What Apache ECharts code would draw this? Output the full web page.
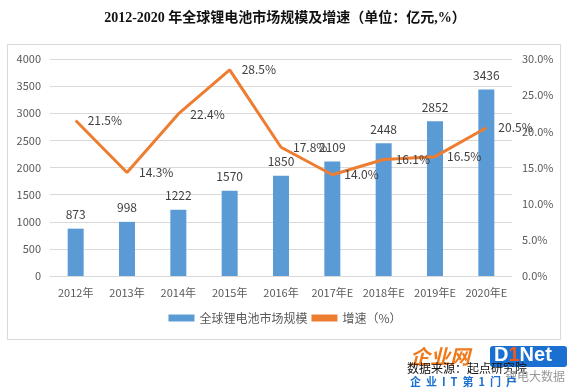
<!DOCTYPE html>
<html>
<head>
<meta charset="utf-8">
<script src="https://cdn.jsdelivr.net/npm/echarts@6/dist/echarts.min.js"></script>
<style>html,body{margin:0;padding:0;background:#fff;}#c{width:570px;height:389px;}</style>
</head>
<body>
<div id="c"></div>
<script>
var categories = ['2012年','2013年','2014年','2015年','2016年','2017年E','2018年E','2019年E','2020年E'];
var marketSize = [873, 998, 1222, 1570, 1850, 2109, 2448, 2852, 3436];
var growthRate = [21.5, 14.3, 22.4, 28.5, 17.8, 14.0, 16.1, 16.5, 20.5];
var leftTicks = [0, 4000, 500];
var rightTicks = [0, 30, 5];
var titleText = '2012-2020 年全球锂电池市场规模及增速（单位：亿元,%）';
var seriesNames = ['全球锂电池市场规模', '增速（%）'];

var font = '"Microsoft YaHei","Noto Sans CJK SC",sans-serif';
var chart = echarts.init(document.getElementById('c'), null, {renderer: 'canvas'});
chart.setOption({
  backgroundColor: '#fff',
  animation: false,
  title: {
    text: titleText, left: 'center', top: 6,
    textStyle: {fontFamily: '"Liberation Serif","Noto Sans CJK SC",serif', fontWeight: 'bold', fontSize: 14, color: '#111'}
  },
  legend: {
    bottom: 60, left: 'center', itemGap: 4,
    textStyle: {fontFamily: font, fontSize: 12, color: '#595959'},
    data: [
      {name: seriesNames[0], icon: 'rect', itemStyle: {color: '#5B9BD5'}},
      {name: seriesNames[1], icon: 'rect', itemStyle: {color: '#ED7D31'}}
    ],
    itemWidth: 26, itemHeight: 7
  },
  grid: {left: 50, right: 58, top: 59, bottom: 113},
  xAxis: {
    type: 'category', data: categories,
    axisLine: {lineStyle: {color: '#d9d9d9'}},
    axisTick: {show: false},
    axisLabel: {color: '#595959', fontSize: 11, fontFamily: font, margin: 11, interval: 0}
  },
  yAxis: [
    {
      type: 'value', min: leftTicks[0], max: leftTicks[1], interval: leftTicks[2],
      axisLine: {show: false}, axisTick: {show: false},
      axisLabel: {color: '#595959', fontSize: 11, fontFamily: font, margin: 9,
        formatter: function(v){ return String(v); }},
      splitLine: {lineStyle: {color: '#d9d9d9'}}
    },
    {
      type: 'value', min: rightTicks[0], max: rightTicks[1], interval: rightTicks[2],
      axisLine: {show: false}, axisTick: {show: false},
      axisLabel: {color: '#595959', fontSize: 11, fontFamily: font, margin: 10,
        formatter: function(v){ return v.toFixed(1) + '%'; }},
      splitLine: {show: false}
    }
  ],
  series: [
    {
      name: seriesNames[0], type: 'bar', data: marketSize, barWidth: 16,
      itemStyle: {color: '#5B9BD5'},
      label: {show: true, position: 'top', distance: 8, color: '#404040', fontSize: 12, fontFamily: font}
    },
    {
      name: seriesNames[1], type: 'line', yAxisIndex: 1, data: growthRate,
      symbol: 'circle', symbolSize: 0.01, showSymbol: true,
      lineStyle: {color: '#ED7D31', width: 3},
      itemStyle: {color: '#ED7D31'},
      label: {show: true, position: 'right', distance: 12, color: '#404040', fontSize: 12, fontFamily: font,
        formatter: function(p){ return p.value.toFixed(1) + '%'; }}
    }
  ],
  graphic: [
    {type: 'rect', shape: {x: 7.5, y: 44.5, width: 553, height: 295}, style: {fill: 'none', stroke: '#d9d9d9', lineWidth: 1}, z: -1},
    {type: 'text', left: 410, top: 346, style: {text: '企业网', fill: '#F07A1A', font: 'italic bold 20px "Noto Sans CJK SC"'}},
    {type: 'rect', shape: {x: 490, y: 346, width: 77, height: 21, r: 3}, style: {fill: '#1A6FD0'}},
    {type: 'text', left: 494, top: 345, style: {rich: {a: {fill: '#fff', fontSize: 20, fontWeight: 'bold', fontFamily: 'Liberation Sans'}, b: {fill: '#F05A1A', fontSize: 20, fontWeight: 'bold', fontFamily: 'Liberation Sans'}}, text: '{a|D}{b|1}{a|Net}'}},
    {type: 'text', left: 407, top: 362, style: {text: '数据来源：起点研究院', fill: '#111', font: '12px "Noto Sans CJK SC"'}},
    {type: 'text', left: 505, top: 370, style: {text: '锂电大数据', fill: '#999', font: '12px "Noto Sans CJK SC"'}},
    {type: 'text', left: 410, top: 376, style: {text: '企  业  I  T  第  1  门  户', fill: '#1A6FD0', font: 'bold 11px "Noto Sans CJK SC"'}}
  ]
});
</script>
</body>
</html>
